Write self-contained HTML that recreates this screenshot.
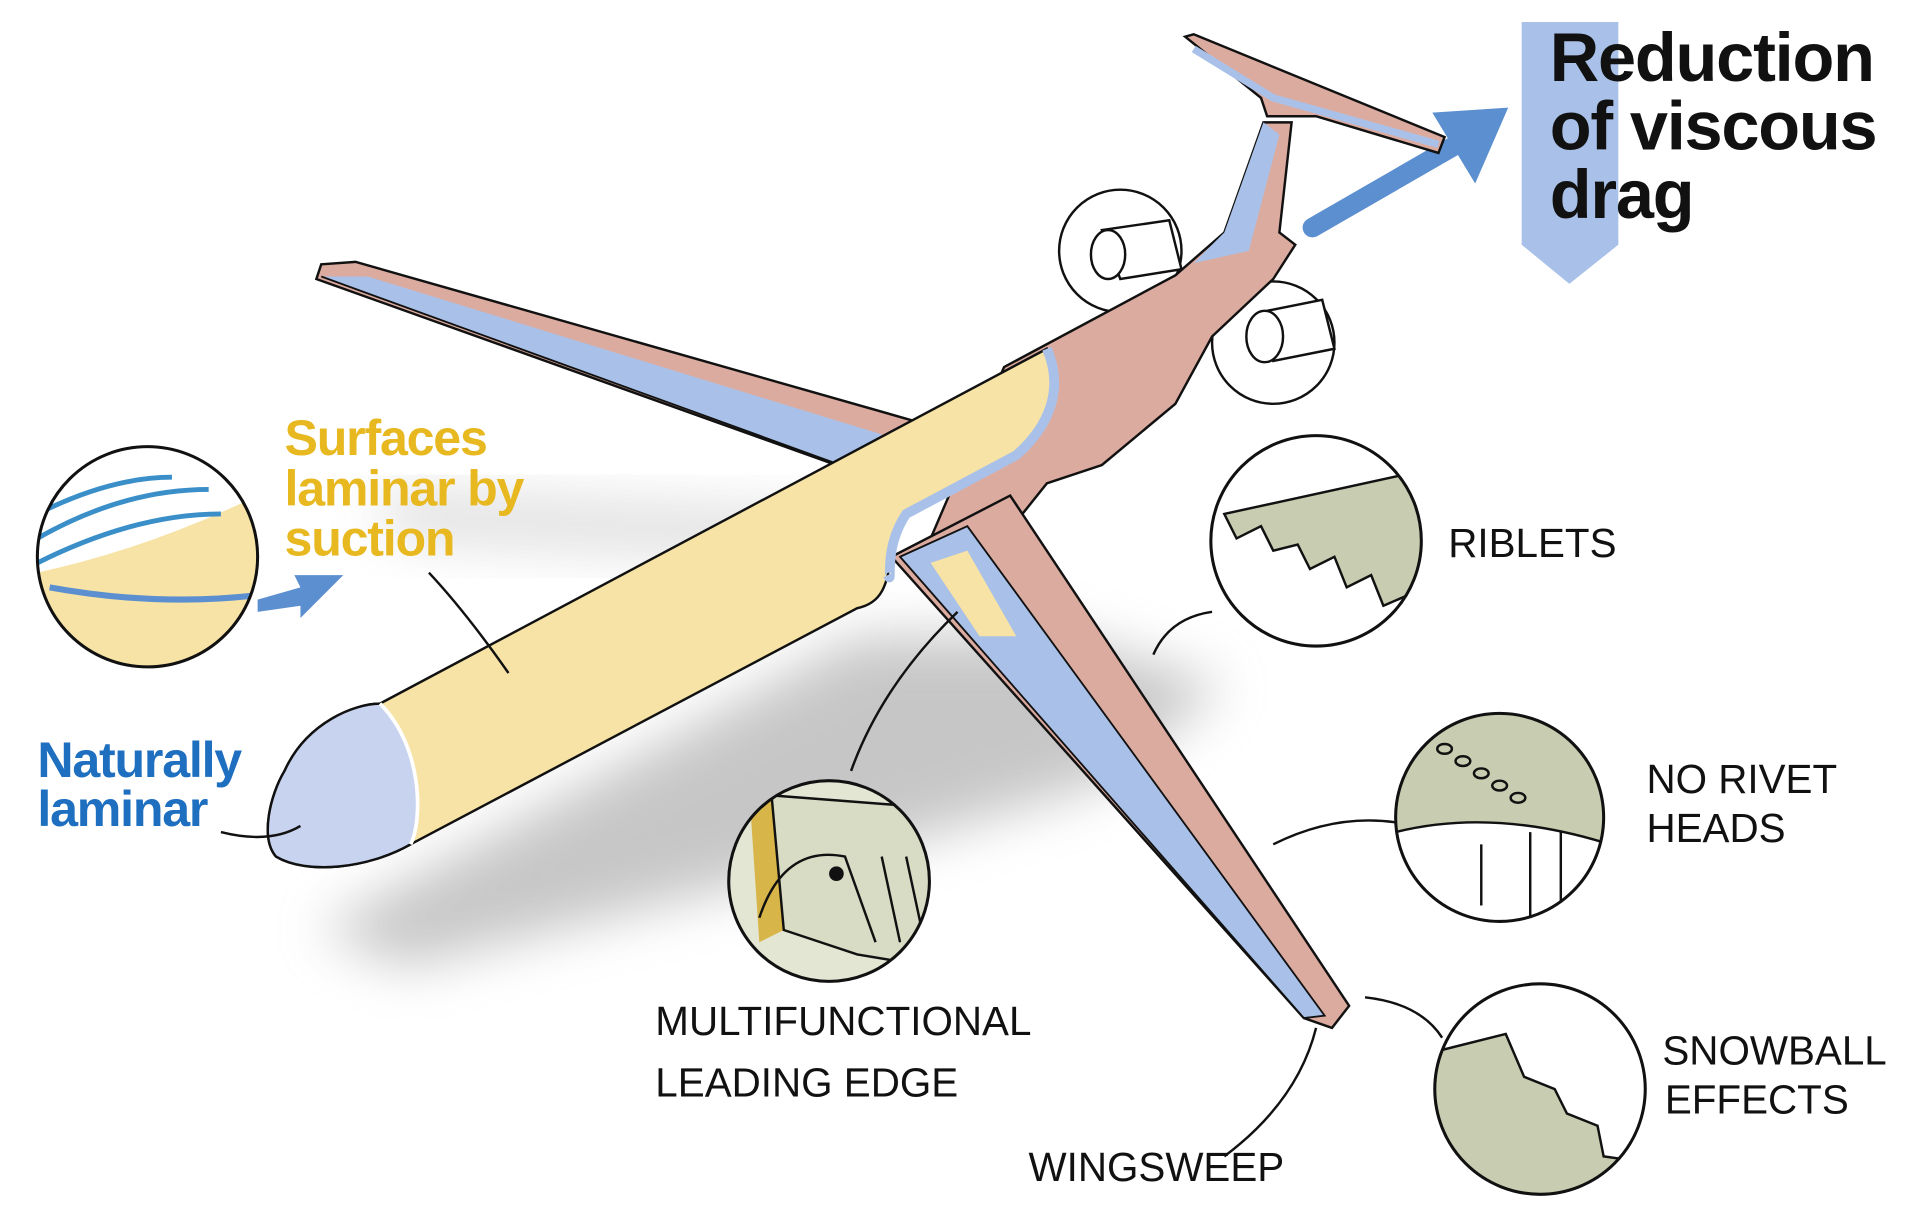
<!DOCTYPE html>
<html><head><meta charset="utf-8"><style>
html,body{margin:0;padding:0;background:#fff;}
svg{display:block;}
.h{font-family:"Liberation Sans",sans-serif;font-weight:bold;}
.m{font-family:"Liberation Sans",sans-serif;font-size:33px;fill:#111;letter-spacing:0px;}
</style></head><body>
<svg width="1920" height="1231" viewBox="0 0 1568 1006" xmlns="http://www.w3.org/2000/svg">
<defs>
<filter id="b" x="-20%" y="-20%" width="140%" height="140%"><feGaussianBlur stdDeviation="22"/></filter>
<clipPath id="c1"><circle cx="120" cy="455" r="90"/></clipPath>
<clipPath id="c2"><circle cx="1075" cy="442" r="86"/></clipPath>
<clipPath id="c3"><circle cx="1225" cy="668" r="85"/></clipPath>
<clipPath id="c4"><circle cx="1258" cy="890" r="86"/></clipPath>
<clipPath id="c5"><circle cx="677" cy="720" r="82"/></clipPath>
</defs>
<path d="M260,760 L700,520 L870,520 L1000,560 L900,640 L700,700 L330,790 Z" fill="#999" opacity="0.55" filter="url(#b)"/>
<path d="M300,400 L680,420 L700,460 L330,440 Z" fill="#aaa" opacity="0.4" filter="url(#b)"/>

<path d="M1243,18 L1322,18 L1322,200 L1282,232 L1243,200 Z" fill="#a9c1e8"/>
<text class="h" font-size="56" fill="#111" x="1266" y="66" letter-spacing="-1">Reduction</text>
<text class="h" font-size="56" fill="#111" x="1266" y="122" letter-spacing="-1">of viscous</text>
<text class="h" font-size="56" fill="#111" x="1266" y="178" letter-spacing="-1">drag</text>
<path d="M1072,186 L1190,118" stroke="#5b8fd0" stroke-width="16" stroke-linecap="round"/>
<path d="M1170,92 L1232,88 L1205,150 Z" fill="#5b8fd0"/>

<path d="M968,30 L975,28 L1180,112 L1175,125 L1075,95 L1035,95 L1030,80 Z" fill="#dcaba0" stroke="#111" stroke-width="2"/>
<path d="M975,40 L1040,80 L1175,118" stroke="#a9c1e8" stroke-width="6" fill="none"/>

<path d="M262,216 L290,214 L750,345 L705,388 L258,228 Z" fill="#dcaba0" stroke="#111" stroke-width="2"/>
<path d="M262,226 L300,226 L720,355 L700,385 Z" fill="#a9c1e8"/>
<path d="M262,226 L700,385" stroke="#111" stroke-width="1.5"/>

<circle cx="915" cy="205" r="50" fill="#fff" stroke="#111" stroke-width="2"/>
<path d="M900,188 L955,180 L965,220 L915,228 Z" fill="#fff" stroke="#111" stroke-width="2"/>
<ellipse cx="905" cy="208" rx="14" ry="20" fill="#fff" stroke="#111" stroke-width="2"/>
<circle cx="1040" cy="280" r="50" fill="#fff" stroke="#111" stroke-width="2"/>
<path d="M1030,255 L1080,245 L1090,285 L1040,295 Z" fill="#fff" stroke="#111" stroke-width="2"/>
<ellipse cx="1033" cy="275" rx="15" ry="21" fill="#fff" stroke="#111" stroke-width="2"/>

<path d="M820,300 L960,225 L1000,190 L1032,100 L1055,100 L1045,190 L1058,200 L1040,228 L990,275 L960,330 L900,380 L855,395 L835,420 L760,440 Z" fill="#dcaba0" stroke="#111" stroke-width="2"/>
<path d="M1032,100 L1000,190 L975,215 L1020,205 L1045,110 Z" fill="#a9c1e8"/>

<path d="M728,455 L825,405 L1102,822 L1088,840 L1065,832 Z" fill="#dcaba0" stroke="#111" stroke-width="2"/>
<path d="M735,455 L790,430 L1082,830 L1065,832 Z" fill="#a9c1e8" stroke="#111" stroke-width="1.5"/>
<path d="M760,460 L790,450 L830,520 L800,520 Z" fill="#f7e3a6"/>

<path d="M232,630 C250,590 290,575 310,575 L855,285 C870,320 855,350 830,372 L740,420 C720,450 735,490 700,497 L335,690 C300,710 250,715 225,700 C212,685 220,650 232,630 Z" fill="#f7e3a6" stroke="#111" stroke-width="2"/>
<path d="M855,285 C870,320 855,350 830,372 L740,420 C720,450 730,480 725,470" stroke="#a9c1e8" stroke-width="8" fill="none"/>
<path d="M232,630 C250,590 290,575 310,575 C345,610 345,670 335,690 C300,710 250,715 225,700 C212,685 220,650 232,630 Z" fill="#c7d3ef" stroke="#111" stroke-width="2"/>
<path d="M310,575 C345,610 345,670 335,690" stroke="#fff" stroke-width="3" fill="none"/>

<g clip-path="url(#c1)"><rect x="20" y="360" width="200" height="200" fill="#fff"/>
<path d="M20,470 Q120,450 220,400 L220,560 L20,560 Z" fill="#f7e3a6"/>
<path d="M30,420 Q90,390 140,390 M30,440 Q100,400 170,400 M30,460 Q110,420 180,420" stroke="#3a8fc8" stroke-width="4" fill="none"/>
<path d="M40,480 Q150,500 250,480" stroke="#5b8fd0" stroke-width="5" fill="none"/></g>
<circle cx="120" cy="455" r="90" fill="none" stroke="#111" stroke-width="2.5"/>
<path d="M210,490 L245,480 L240,470 L280,470 L245,505 L245,495 L210,500 Z" fill="#5b8fd0"/>

<g clip-path="url(#c2)"><rect x="985" y="355" width="180" height="180" fill="#fff"/>
<path d="M1000,420 L1160,385 L1165,480 L1130,495 L1120,470 L1100,480 L1090,455 L1070,465 L1060,445 L1040,450 L1030,430 L1010,440 Z" fill="#c8ccb0" stroke="#111" stroke-width="2"/></g>
<circle cx="1075" cy="442" r="86" fill="none" stroke="#111" stroke-width="2.5"/>

<g clip-path="url(#c3)"><rect x="1135" y="580" width="180" height="180" fill="#c8ccb0"/>
<path d="M1140,680 Q1220,660 1315,690 L1315,760 L1140,760 Z" fill="#fff" stroke="#111" stroke-width="2"/>
<path d="M1210,690 L1210,740 M1250,680 L1250,750 M1275,680 L1275,750" stroke="#111" stroke-width="2"/>
<g fill="none" stroke="#111" stroke-width="2"><ellipse cx="1180" cy="612" rx="6" ry="4"/><ellipse cx="1195" cy="622" rx="6" ry="4"/><ellipse cx="1210" cy="632" rx="6" ry="4"/><ellipse cx="1225" cy="642" rx="6" ry="4"/><ellipse cx="1240" cy="652" rx="6" ry="4"/></g></g>
<circle cx="1225" cy="668" r="85" fill="none" stroke="#111" stroke-width="2.5"/>

<g clip-path="url(#c4)"><rect x="1170" y="800" width="180" height="180" fill="#fff"/>
<path d="M1170,860 L1230,845 L1245,880 L1270,890 L1280,910 L1305,920 L1310,945 L1345,950 L1345,980 L1170,980 Z" fill="#c8ccb0" stroke="#111" stroke-width="2"/></g>
<circle cx="1258" cy="890" r="86" fill="none" stroke="#111" stroke-width="2.5"/>

<g clip-path="url(#c5)"><rect x="595" y="638" width="165" height="165" fill="#e4e6d4"/>
<path d="M612,650 L630,650 L640,760 L620,770 Z" fill="#d8b548"/>
<path d="M630,650 L760,660 L760,790 L700,780 L640,760 Z" fill="#d8dcc4" stroke="#111" stroke-width="2"/>
<path d="M620,750 Q640,690 690,700 L715,770" fill="none" stroke="#111" stroke-width="2"/>
<circle cx="683" cy="714" r="6" fill="#111"/>
<path d="M720,700 L735,770 M740,700 L755,770" stroke="#111" stroke-width="2"/></g>
<circle cx="677" cy="720" r="82" fill="none" stroke="#111" stroke-width="2.5"/>

<g fill="none" stroke="#111" stroke-width="2">
<path d="M415,550 Q380,500 350,468"/>
<path d="M180,680 Q220,690 245,675"/>
<path d="M695,630 Q720,560 782,500"/>
<path d="M942,535 Q955,505 990,500"/>
<path d="M1040,690 Q1090,665 1140,672"/>
<path d="M1115,815 Q1160,820 1178,848"/>
<path d="M1075,840 Q1060,900 1000,945"/>
</g>

<text class="h" font-size="41" fill="#e8b820" x="232" y="372" letter-spacing="-1">Surfaces</text>
<text class="h" font-size="41" fill="#e8b820" x="232" y="413" letter-spacing="-1">laminar by</text>
<text class="h" font-size="41" fill="#e8b820" x="232" y="454" letter-spacing="-1">suction</text>
<text class="h" font-size="41" fill="#1e6fbf" x="30" y="635" letter-spacing="-1">Naturally</text>
<text class="h" font-size="41" fill="#1e6fbf" x="30" y="675" letter-spacing="-1">laminar</text>
<text class="m" x="1183" y="455">RIBLETS</text>
<text class="m" x="1345" y="648">NO RIVET</text>
<text class="m" x="1345" y="688">HEADS</text>
<text class="m" x="1358" y="870">SNOWBALL</text>
<text class="m" x="1360" y="910">EFFECTS</text>
<text class="m" x="535" y="846">MULTIFUNCTIONAL</text>
<text class="m" x="535" y="896">LEADING EDGE</text>
<text class="m" x="840" y="965">WINGSWEEP</text>
</svg>
</body></html>
